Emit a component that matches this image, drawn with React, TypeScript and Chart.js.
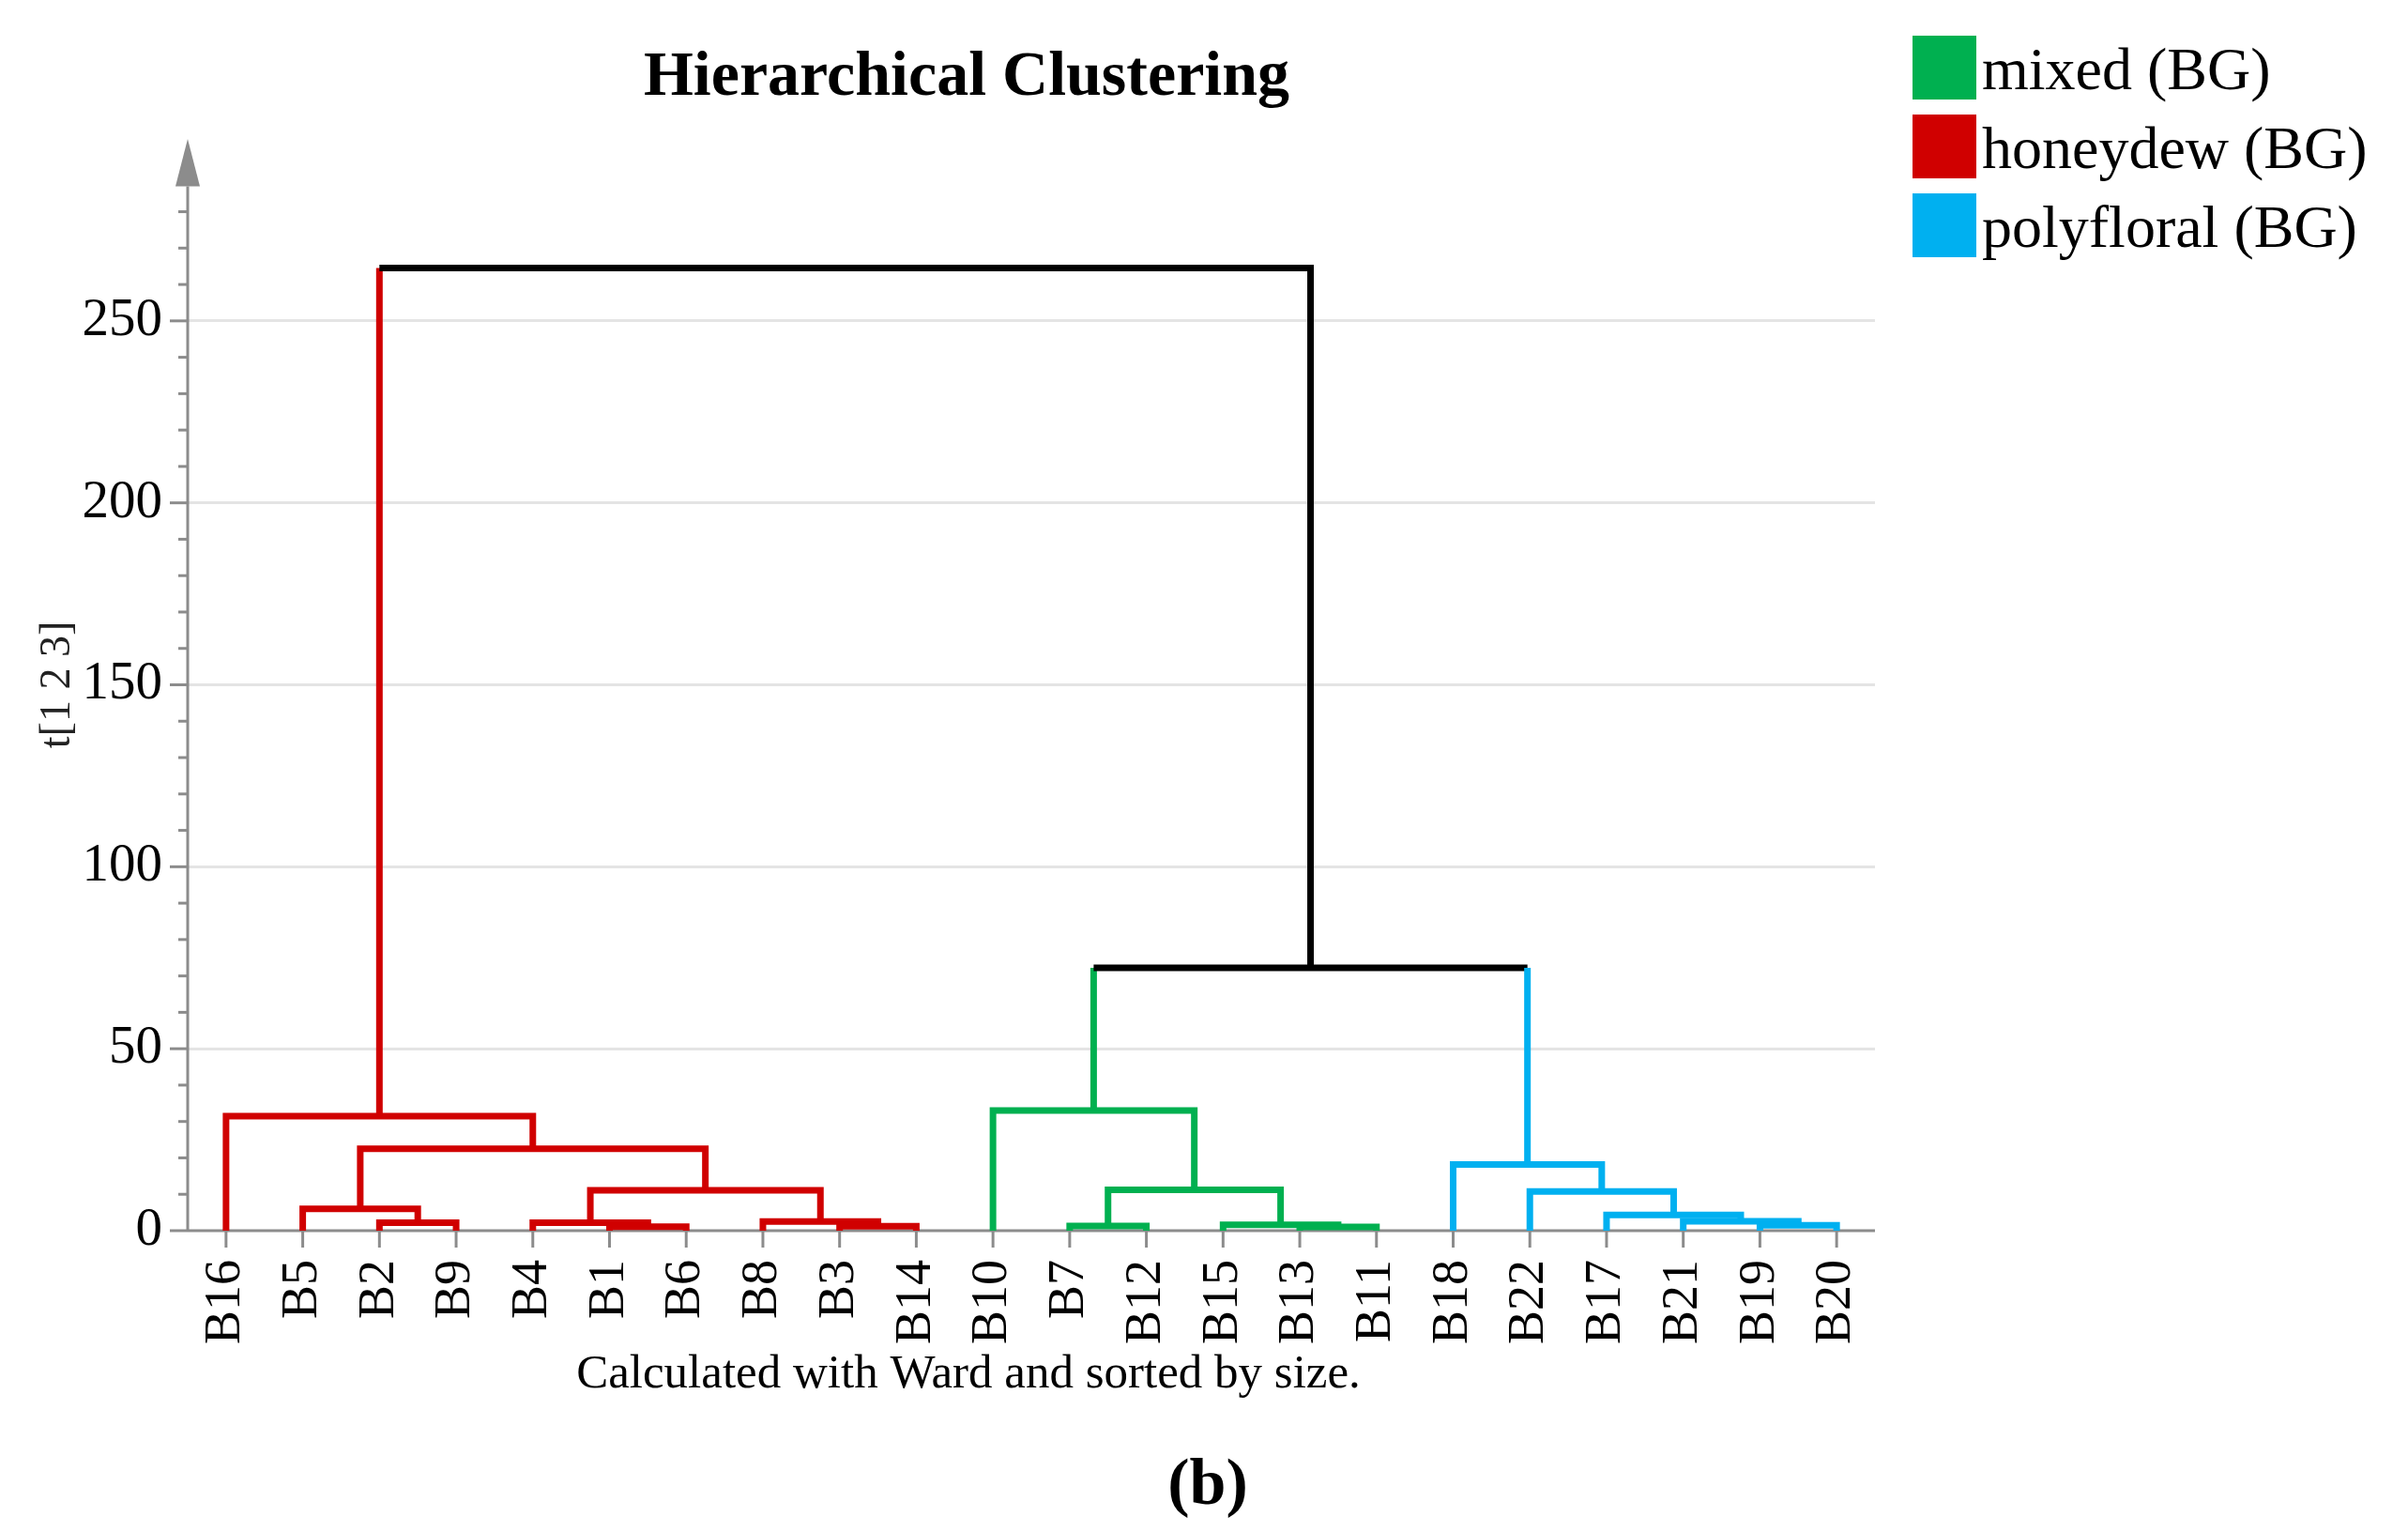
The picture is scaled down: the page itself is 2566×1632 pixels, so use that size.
import React, { useEffect, useRef } from "react";
import { Chart, registerables } from "chart.js";

Chart.register(...registerables);

// ---------- data ----------
const leaves = ["B16", "B5", "B2", "B9", "B4", "B1", "B6", "B8", "B3", "B14", "B10", "B7", "B12", "B15", "B13", "B11", "B18", "B22", "B17", "B21", "B19", "B20"];
const leafGroups = [
  "honeydew", "honeydew", "honeydew", "honeydew", "honeydew", "honeydew", "honeydew", "honeydew", "honeydew", "honeydew",
  "mixed", "mixed", "mixed", "mixed", "mixed", "mixed",
  "polyfloral", "polyfloral", "polyfloral", "polyfloral", "polyfloral", "polyfloral",
];
const groupKeys = ["mixed", "honeydew", "polyfloral"];
const groupLabels = ["mixed (BG)", "honeydew (BG)", "polyfloral (BG)"];

// linkage (Ward), children are leaf names or earlier merge ids
const mergeIds = ["m1", "m2", "m3", "m4", "m5", "m6", "m7", "m8", "m9", "m10", "m11", "m12", "m13", "m14", "m15", "m16", "m17", "m18", "m19", "m20", "m21"];
const mergeLeft = ["B19", "B13", "B1", "B3", "B7", "B15", "B2", "B4", "B8", "B21", "B17", "B5", "B22", "m8", "m5", "B18", "m12", "B16", "B10", "m19", "m18"];
const mergeRight = ["B20", "B11", "B6", "B14", "B12", "m2", "B9", "m3", "m4", "m1", "m10", "m7", "m11", "m9", "m6", "m13", "m14", "m17", "m15", "m16", "m20"];
const mergeHeights = [1.5, 1.0, 1.1, 1.2, 1.3, 1.6, 2.2, 2.2, 2.5, 2.6, 4.3, 6.0, 10.8, 11.1, 11.2, 18.2, 22.5, 31.5, 33.0, 72.2, 264.5];

const yTickValues = [0, 50, 100, 150, 200, 250];
const chartTitle = "Hierarchical Clustering";
const yAxisTitle = "t[1 2 3]";
const caption = "Calculated with Ward and sorted by size.";
const panelLabel = "(b)";

// ---------- styles ----------
const COLORS: Record<string, string> = {
  mixed: "#00b050",
  honeydew: "#d00000",
  polyfloral: "#00b0f0",
  link: "#000000",
};
const AXIS_GRAY = "#8c8c8c";
const GRID_GRAY = "#e4e4e4";
const FONT = "'Liberation Serif', 'Times New Roman', serif";

function buildDatasets() {
  const pos: Record<string, { x: number; y: number; c: string }> = {};
  leaves.forEach((n, i) => {
    pos[n] = { x: i, y: 0, c: COLORS[leafGroups[i]] };
  });
  return mergeIds.map((id, k) => {
    const a = pos[mergeLeft[k]];
    const b = pos[mergeRight[k]];
    const h = mergeHeights[k];
    const c = a.c === b.c ? a.c : COLORS.link;
    pos[id] = { x: (a.x + b.x) / 2, y: h, c };
    const segColors = [a.c, c, b.c];
    return {
      label: id,
      data: [
        { x: a.x, y: a.y },
        { x: a.x, y: h },
        { x: b.x, y: h },
        { x: b.x, y: b.y },
      ],
      showLine: true,
      borderColor: c,
      borderWidth: 7,
      borderJoinStyle: "miter" as const,
      borderCapStyle: "butt" as const,
      pointRadius: 0,
      pointHoverRadius: 0,
      tension: 0,
      clip: false as any,
      segment: {
        borderColor: (ctx: any) => segColors[ctx.p0DataIndex],
      },
    };
  });
}

const decorPlugin = {
  id: "decor",
  beforeDatasetsDraw(chart: any) {
    const { ctx, chartArea: ca } = chart;
    const xs = chart.scales.x;
    const ys = chart.scales.y;
    const y0 = ys.getPixelForValue(0);
    ctx.save();
    ctx.strokeStyle = AXIS_GRAY;
    ctx.fillStyle = AXIS_GRAY;
    ctx.lineWidth = 3;
    // y axis line
    const arrowBase = ys.getPixelForValue(287);
    const arrowTip = ys.getPixelForValue(300);
    ctx.beginPath();
    ctx.moveTo(ca.left, y0);
    ctx.lineTo(ca.left, arrowBase);
    ctx.stroke();
    // arrow
    ctx.beginPath();
    ctx.moveTo(ca.left, arrowTip);
    ctx.lineTo(ca.left - 13, arrowBase);
    ctx.lineTo(ca.left + 13, arrowBase);
    ctx.closePath();
    ctx.fill();
    // y ticks (major + minor)
    for (let v = 0; v <= 280; v += 10) {
      const len = v % 50 === 0 ? 19 : 10;
      const py = ys.getPixelForValue(v);
      ctx.beginPath();
      ctx.moveTo(ca.left - len, py);
      ctx.lineTo(ca.left, py);
      ctx.stroke();
    }
    // x axis line
    ctx.beginPath();
    ctx.moveTo(ca.left, y0);
    ctx.lineTo(ca.right, y0);
    ctx.stroke();
    // x ticks
    leaves.forEach((_, i) => {
      const px = xs.getPixelForValue(i);
      ctx.beginPath();
      ctx.moveTo(px, y0);
      ctx.lineTo(px, y0 + 18);
      ctx.stroke();
    });
    ctx.restore();
  },
  afterDraw(chart: any) {
    const { ctx } = chart;
    ctx.save();
    ctx.fillStyle = "#000";
    ctx.textBaseline = "alphabetic";
    // title
    ctx.font = `bold 68px ${FONT}`;
    ctx.textAlign = "center";
    ctx.fillText(chartTitle, 1030, 101);
    // caption
    ctx.font = `51px ${FONT}`;
    ctx.fillText(caption, 1032, 1478);
    // panel label
    ctx.font = `bold 70px ${FONT}`;
    ctx.fillText(panelLabel, 1287, 1602);
    // legend
    ctx.textAlign = "left";
    ctx.font = `64px ${FONT}`;
    groupKeys.forEach((k, i) => {
      const top = 38 + i * 84;
      ctx.fillStyle = COLORS[k];
      ctx.fillRect(2038, top, 68, 68);
      ctx.fillStyle = "#000";
      ctx.fillText(groupLabels[i], 2112, top + 57);
    });
    ctx.restore();
  },
};

export default function App() {
  const canvasRef = useRef<HTMLCanvasElement | null>(null);

  useEffect(() => {
    document.body.style.margin = "0";
    const canvas = canvasRef.current;
    if (!canvas) return;
    const chart = new Chart(canvas, {
      type: "scatter",
      data: { datasets: buildDatasets() as any },
      options: {
        animation: false,
        responsive: true,
        maintainAspectRatio: false,
        events: [],
        layout: { padding: { left: 0, right: 568, top: 148, bottom: 0 } },
        plugins: {
          legend: { display: false },
          title: { display: false },
          tooltip: { enabled: false },
        },
        scales: {
          x: {
            type: "linear",
            min: -0.5,
            max: 21.5,
            afterBuildTicks: (scale: any) => {
              scale.ticks = leaves.map((_, i) => ({ value: i }));
            },
            afterFit: (scale: any) => {
              scale.height = 321;
            },
            grid: { display: false, drawTicks: false },
            border: { display: false },
            ticks: {
              autoSkip: false,
              minRotation: 90,
              maxRotation: 90,
              padding: 31,
              color: "#000",
              font: { family: FONT, size: 54 },
              callback: (v: any) => leaves[Math.round(Number(v))] ?? "",
            },
          },
          y: {
            type: "linear",
            min: 0,
            max: 300,
            afterBuildTicks: (scale: any) => {
              scale.ticks = yTickValues.map((v) => ({ value: v }));
            },
            afterFit: (scale: any) => {
              scale.width = 200;
            },
            grid: {
              drawTicks: false,
              lineWidth: 3,
              color: (c: any) => (c.tick && c.tick.value > 0 ? GRID_GRAY : "rgba(0,0,0,0)"),
            },
            border: { display: false },
            ticks: {
              autoSkip: false,
              padding: 27,
              color: "#000",
              font: { family: FONT, size: 57 },
            },
            title: {
              display: true,
              text: yAxisTitle,
              color: "#222",
              font: { family: FONT, size: 46 },
              padding: { top: 34, bottom: 0 },
            },
          },
        },
      },
      plugins: [decorPlugin],
    });
    return () => chart.destroy();
  }, []);

  return (
    <div style={{ position: "absolute", left: 0, top: 0, width: 2566, height: 1632, background: "#fff" }}>
      <canvas ref={canvasRef} />
    </div>
  );
}
